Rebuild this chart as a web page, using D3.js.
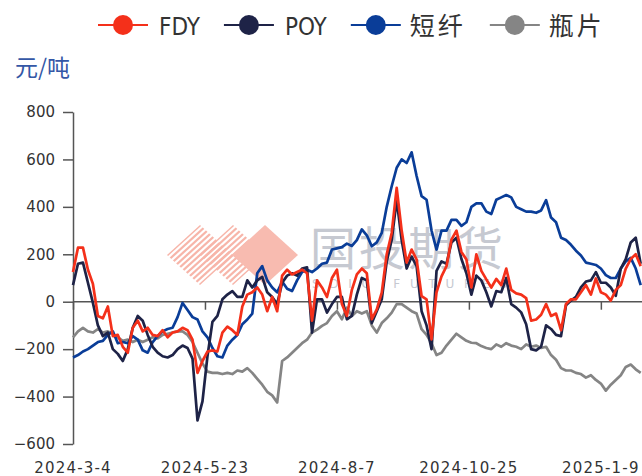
<!DOCTYPE html>
<html><head><meta charset="utf-8">
<script src="https://cdn.jsdelivr.net/npm/d3@7"></script>
<style>html,body{margin:0;padding:0;background:#fff;} svg{display:block;}</style>
</head><body><svg id="c" width="642" height="476"></svg>
<script>
// ---------- data ----------
const seriesNames = ['FDY', 'POY', '短纤', '瓶片'];
const seriesColors = ['#f4301a', '#1e2347', '#0a3d98', '#858585'];
// one sample every 2 trading days starting 2024-3-4
const fdyValues = [125,228,228,135,75,-60,-70,-20,-145,-140,-190,-215,-110,-80,-125,-110,-140,-145,-120,-150,-130,-125,-110,-120,-160,-300,-250,-210,-205,
  -210,-130,-105,-120,-140,-20,30,40,60,30,-40,20,-40,110,135,115,125,135,120,-80,90,60,20,100,135,-10,-60,50,115,
  140,120,-74,-32,38,200,290,480,300,165,220,178,24,10,-159,40,107,150,262,300,210,178,60,200,130,94,60,
  96,70,140,50,35,30,15,-80,-75,-55,-10,-60,-50,-120,-10,10,10,40,70,30,98,40,30,5,50,70,140,180,200,150];
const poyValues = [70,160,165,80,-5,-100,-145,-130,-200,-220,-250,-200,-110,-60,-80,-140,-190,-215,-230,-235,-225,-200,-185,-195,-240,-500,-420,-230,-85,
  -60,10,30,45,20,20,90,60,90,105,40,20,-10,80,110,120,110,140,145,-130,10,10,-46,-10,20,20,-74,-60,30,
  100,90,-90,-40,10,170,260,430,260,140,190,150,-40,-100,-200,130,170,160,250,270,180,120,30,110,90,40,-20,
  45,40,100,-10,-25,-45,-95,-200,-205,-190,-100,-115,-140,-145,-15,5,20,60,85,90,125,80,80,60,25,140,180,250,270,160];
const psfValues = [-235,-225,-210,-200,-185,-170,-165,-140,-125,-175,-170,-175,-145,-160,-205,-215,-170,-145,-125,-115,-110,-65,-5,-35,-65,-75,-125,-150,-195,
  -230,-235,-185,-160,-140,-95,-75,-50,120,150,90,60,40,85,55,45,90,125,135,125,140,160,165,220,225,230,245,235,260,
  305,280,234,250,290,400,487,565,600,585,630,530,445,430,300,220,300,300,345,345,320,335,400,415,415,380,370,
  430,440,450,440,400,390,380,380,375,385,428,355,335,270,260,240,215,195,165,160,155,140,112,100,100,140,170,185,140,70];
const chipValues = [-150,-125,-110,-125,-130,-115,-130,-125,-135,-150,-165,-160,-170,-160,-170,-160,-150,-155,-140,-135,-130,-125,-125,-140,-170,-215,-260,-295,-300,
  -300,-305,-300,-305,-290,-295,-280,-300,-325,-350,-380,-395,-425,
  -250,-235,-215,-195,-175,-160,-130,-118,-102,-90,-60,-40,-74,-25,-60,-40,
  -50,-40,-100,-130,-90,-70,-46,-10,-10,-25,-40,-50,-116,-140,-175,-225,-215,-185,-160,-135,-150,-165,-173,-175,-187,-195,-200,-180,
  -190,-175,-185,-190,-200,-180,-190,-185,-195,-190,-225,-245,-280,-290,-290,-300,-305,-320,-310,-330,-345,-375,-350,-330,-310,-275,-265,-285,-300];
const sampleStep = 2;                       // trading days between samples
const xTickDays = [0, 53, 106, 159, 212];   // trading-day index of each label
const xTickLabels = ['2024-3-4', '2024-5-23', '2024-8-7', '2024-10-25', '2025-1-9'];
const yTickValues = [-600, -400, -200, 0, 200, 400, 600, 800];
const yUnit = '元/吨';

// ---------- chart ----------
const W = 642, H = 476;
const svg = d3.select('#c');
const x = d3.scaleLinear().domain([0, 228]).range([73, 640.7]);
const y = d3.scaleLinear().domain([-600, 800]).range([444, 112]);
const numFont = "'DejaVu Sans', sans-serif";
const cjk = "'Noto Sans CJK SC', sans-serif";

// watermark
const wm = svg.append('g').attr('class', 'watermark');
const defs = svg.append('defs');
const diamond = (cx, cy, w, h) => `M${cx},${cy - h}L${cx + w},${cy}L${cx},${cy + h}L${cx - w},${cy}Z`;
[[200, 255], [233, 255]].forEach(([cx, cy], k) => {
  defs.append('clipPath').attr('id', 'dclip' + k).append('path').attr('d', diamond(cx, cy, 33, 30));
  const g = wm.append('g').attr('clip-path', `url(#dclip${k})`);
  const len = Math.hypot(33, 30), dx = 33 / len, dy = -30 / len;
  for (let s = -10; s <= 10; s++) {
    const px = cx + s * 6.5, py = cy;
    g.append('line').attr('x1', px - dx * 70).attr('y1', py - dy * 70).attr('x2', px + dx * 70).attr('y2', py + dy * 70)
      .attr('stroke', '#f7b5a9').attr('stroke-width', 2.2);
  }
});
wm.append('path').attr('d', diamond(265, 255, 33, 30)).attr('fill', '#f8bbb0');
wm.append('text').attr('x', 310).attr('y', 265).attr('font-family', cjk).attr('font-size', 46)
  .attr('letter-spacing', 3).attr('fill', '#c6c9d1').text('国投期货');
wm.append('text').attr('x', 312).attr('y', 288).attr('font-family', "'DejaVu Sans', sans-serif").attr('font-size', 12)
  .attr('textLength', 195).attr('lengthAdjust', 'spacing').attr('fill', '#c6c9d1').text('SDIC FUTURES');

// y axis
const yAxis = svg.append('g').attr('transform', `translate(${x(0)},0)`)
  .call(d3.axisLeft(y).tickValues(yTickValues).tickSize(10).tickSizeOuter(0).tickPadding(8));
yAxis.select('.domain').attr('stroke', '#555').attr('stroke-width', 1.5);
yAxis.selectAll('.tick line').attr('stroke', '#555').attr('stroke-width', 1.5);
yAxis.selectAll('.tick text').attr('font-family', numFont).attr('font-size', 15).attr('fill', '#333');

// x axis at zero
const xAxis = svg.append('g').attr('transform', `translate(0,${y(0)})`)
  .call(d3.axisBottom(x).tickValues(xTickDays).tickSize(8).tickSizeOuter(0).tickFormat(''));
xAxis.select('.domain').remove();
xAxis.selectAll('.tick line').attr('stroke', '#555').attr('stroke-width', 1.5);
svg.append('line').attr('x1', x(0)).attr('x2', W).attr('y1', y(0)).attr('y2', y(0))
  .attr('stroke', '#555').attr('stroke-width', 1.5);
svg.append('g').selectAll('text').data(xTickDays).join('text')
  .attr('x', d => x(d)).attr('y', 473).attr('text-anchor', 'middle')
  .attr('font-family', numFont).attr('font-size', 15).attr('letter-spacing', 1.2).attr('fill', '#333')
  .text((d, i) => xTickLabels[i]);

// unit label
svg.append('text').attr('x', 15).attr('y', 75.5).attr('font-family', cjk).attr('font-size', 23)
  .attr('fill', '#3457a6').text(yUnit);

// series
const allSeries = [fdyValues, poyValues, psfValues, chipValues];
const line = d3.line().x((d, i) => x(i * sampleStep)).y(d => y(d));
const drawOrder = [3, 2, 1, 0];
drawOrder.forEach(k => {
  svg.append('path').datum(allSeries[k]).attr('d', line).attr('fill', 'none')
    .attr('stroke', seriesColors[k]).attr('stroke-width', 2.7).attr('stroke-linejoin', 'round');
});

// legend
const leg = svg.append('g');
let lx = 98;
seriesNames.forEach((name, k) => {
  const isCjk = /[\u4e00-\u9fff]/.test(name);
  leg.append('line').attr('x1', lx).attr('x2', lx + 50).attr('y1', 25).attr('y2', 25)
    .attr('stroke', seriesColors[k]).attr('stroke-width', 2);
  leg.append('circle').attr('cx', lx + 25).attr('cy', 25).attr('r', 10).attr('fill', seriesColors[k]);
  const t = leg.append('text').attr('x', lx + 50 + (isCjk ? 9 : 11)).attr('y', isCjk ? 34.5 : 35)
    .attr('font-family', isCjk ? cjk : "'Liberation Sans Narrow','DejaVu Sans Condensed','Liberation Sans',sans-serif")
    .attr('font-size', isCjk ? 25 : 24).attr('letter-spacing', isCjk ? 3 : 0).attr('fill', '#333').text(name);
  lx = lx + 50 + (isCjk ? 9 : 11) + t.node().getComputedTextLength() + 24;
});
</script>
</body></html>
